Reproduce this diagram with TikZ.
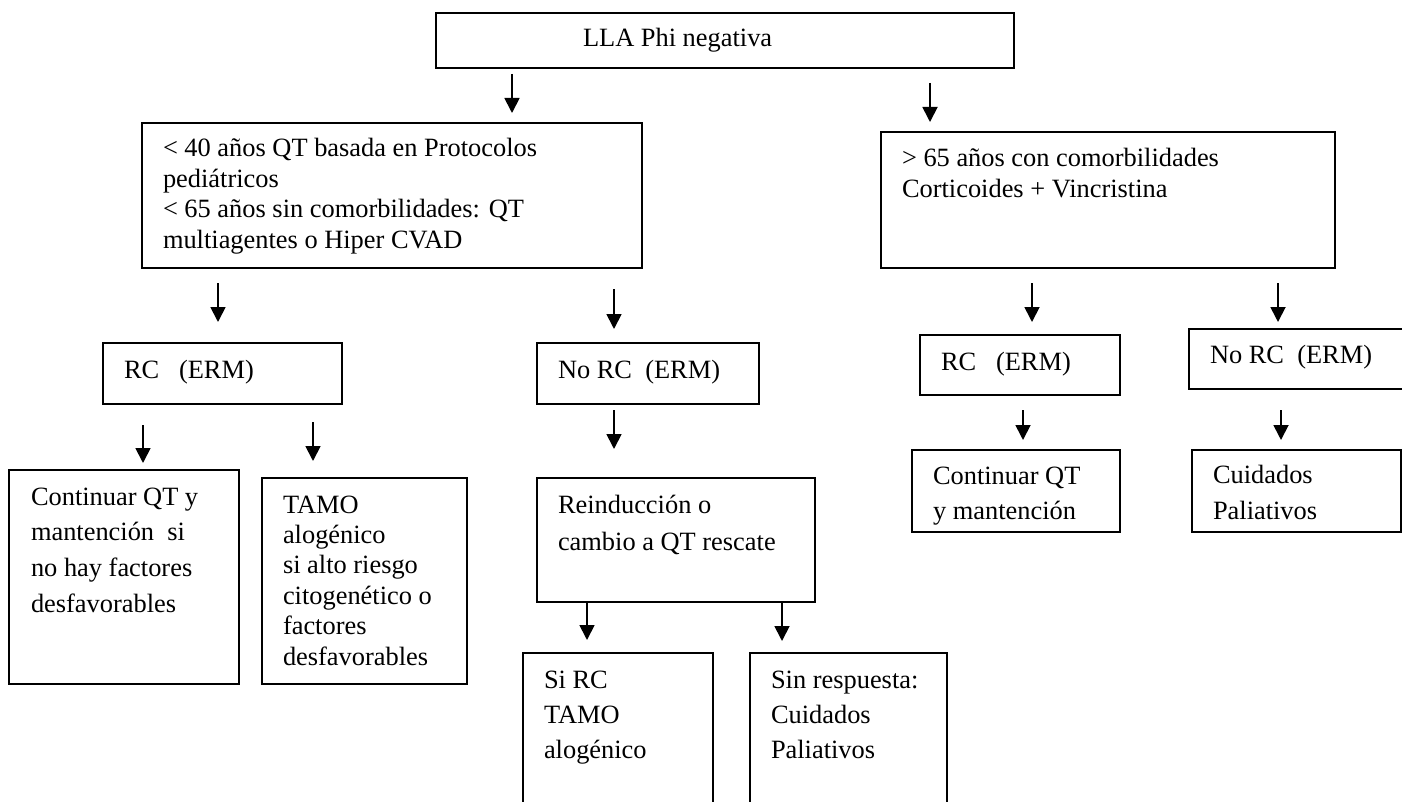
\documentclass[tikz,border=0pt]{standalone}
\usepackage{fontspec}
\setmainfont{Liberation Serif}
\usetikzlibrary{arrows.meta}
\newcommand\mylines[2]{\fontsize{26.4}{#1}\selectfont\begin{tabular}[t]{@{}l@{}}#2\end{tabular}}
\tikzset{
  box/.style={draw, rectangle, line width=1.8pt, inner sep=0pt, outer sep=0pt, anchor=north west},
  lbl/.style={anchor=base west, inner sep=0pt, outer sep=0pt},
  arr/.style={line width=1.8pt, -{Triangle[width=15pt,length=15pt]}},
}
\begin{document}
\begin{tikzpicture}[x=1pt,y=-1pt]
\useasboundingbox (0,0) rectangle (1402,802);
\clip (0,0) rectangle (1402,802);
\fill[white] (0,0) rectangle (1402,802);

% boxes
\node[box, minimum width=578, minimum height=55]  (b0)  at (436,13)  {};
\node[box, minimum width=500, minimum height=145] (b1)  at (142,123) {};
\node[box, minimum width=454, minimum height=136] (b2)  at (881,132) {};
\node[box, minimum width=239, minimum height=61]  (b3)  at (103,343) {};
\node[box, minimum width=222, minimum height=61]  (b4)  at (537,343) {};
\node[box, minimum width=230, minimum height=214] (b5)  at (9,470)   {};
\node[box, minimum width=205, minimum height=206] (b6)  at (262,478) {};
\node[box, minimum width=278, minimum height=124] (b7)  at (537,478) {};
\node[box, minimum width=190, minimum height=180] (b8)  at (523,653) {};
\node[box, minimum width=197, minimum height=180] (b9)  at (750,653) {};
\node[box, minimum width=200, minimum height=60]  (b10) at (920,335) {};
\node[box, minimum width=226, minimum height=60]  (b11) at (1189,329) {};
\node[box, minimum width=208, minimum height=82]  (b12) at (912,450) {};
\node[box, minimum width=209, minimum height=82]  (b13) at (1192,450) {};

% texts
\node[lbl] (t0)  at (583,47)  {\mylines{30.4}{LLA Phi negativa}};
\node[lbl] (t1)  at (163,157) {\mylines{30.4}{< 40 años QT basada en Protocolos\\pediátricos\\< 65 años sin comorbilidades: QT\\multiagentes o Hiper CVAD}};
\node[lbl] (t2)  at (902,167) {\mylines{31}{> 65 años con comorbilidades\\Corticoides + Vincristina}};
\node[lbl] (t3)  at (124,378) {\mylines{30.4}{RC\ \ \ (ERM)}};
\node[lbl] (t4)  at (558,378) {\mylines{30.4}{No RC\ \ (ERM)}};
\node[lbl] (t5)  at (31,505)  {\mylines{35.7}{Continuar QT y\\mantención\ \ si\\no hay factores\\desfavorables}};
\node[lbl] (t6)  at (283,513) {\mylines{30.4}{TAMO\\alogénico\\si alto riesgo\\citogenético o\\factores\\desfavorables}};
\node[lbl] (t7)  at (558,513) {\mylines{37}{Reinducción o\\cambio a QT rescate}};
\node[lbl] (t8)  at (544,688) {\mylines{35}{Si RC\\TAMO\\alogénico}};
\node[lbl] (t9)  at (771,688) {\mylines{35}{Sin respuesta:\\Cuidados\\Paliativos}};
\node[lbl] (t10) at (941,370) {\mylines{30.4}{RC\ \ \ (ERM)}};
\node[lbl] (t11) at (1210,363) {\mylines{30.4}{No RC\ \ (ERM)}};
\node[lbl] (t12) at (933,484) {\mylines{35}{Continuar QT\\y mantención}};
\node[lbl] (t13) at (1213,483) {\mylines{36}{Cuidados\\Paliativos}};

% arrows
\draw[arr, shorten <=6pt,  shorten >=10pt] (512,0 |- b0.south)  -- (512,0 |- b1.north);
\draw[arr, shorten <=15pt, shorten >=10pt] (930,0 |- b0.south)  -- (930,0 |- b2.north);
\draw[arr, shorten <=15pt, shorten >=21pt] (218,0 |- b1.south)  -- (218,0 |- b3.north);
\draw[arr, shorten <=21pt, shorten >=14pt] (614,0 |- b1.south)  -- (614,0 |- b4.north);
\draw[arr, shorten <=15pt, shorten >=13pt] (1032,0 |- b2.south) -- (1032,0 |- b10.north);
\draw[arr, shorten <=15pt, shorten >=7pt]  (1278,0 |- b2.south) -- (1278,0 |- b11.north);
\draw[arr, shorten <=21pt, shorten >=7pt]  (143,0 |- b3.south)  -- (143,0 |- b5.north);
\draw[arr, shorten <=18pt, shorten >=17pt] (313,0 |- b3.south)  -- (313,0 |- b6.north);
\draw[arr, shorten <=6pt,  shorten >=29pt] (614,0 |- b4.south)  -- (614,0 |- b7.north);
\draw[arr, shorten <=15pt, shorten >=10pt] (1023,0 |- b10.south) -- (1023,0 |- b12.north);
\draw[arr, shorten <=21pt, shorten >=10pt] (1281,0 |- b11.south) -- (1281,0 |- b13.north);
\draw[arr, shorten >=13pt] (587,0 |- b7.south) -- (587,0 |- b8.north);
\draw[arr, shorten >=12pt] (782,0 |- b7.south) -- (782,0 |- b9.north);
\end{tikzpicture}
\end{document}
